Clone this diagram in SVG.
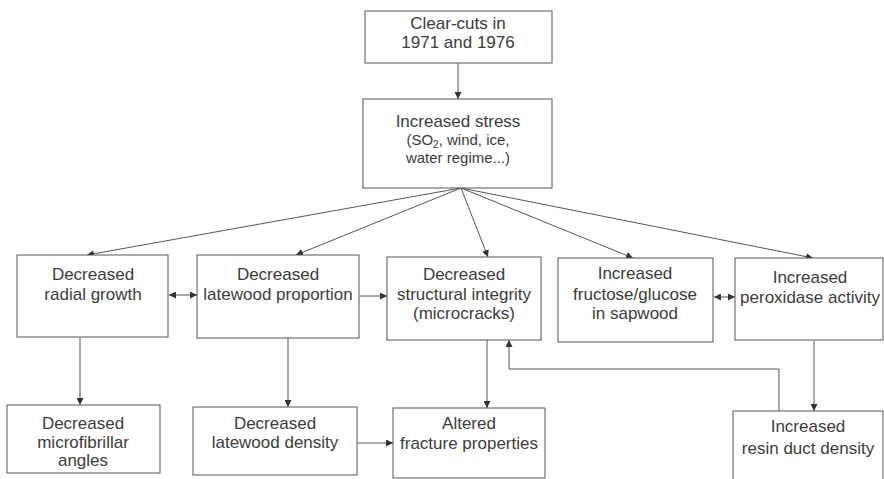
<svg xmlns="http://www.w3.org/2000/svg" width="884" height="479" viewBox="0 0 884 479">
<defs>
<marker id="ah" viewBox="0 0 10 10" refX="10" refY="5" markerWidth="7" markerHeight="7" orient="auto-start-reverse" markerUnits="userSpaceOnUse">
<path d="M0,0 L10,5 L0,10 z" fill="#333"/>
</marker>
<style>
.box{fill:#fff;stroke:#555;stroke-width:1}
.t{font-family:"Liberation Sans",Arial,sans-serif;font-size:17px;fill:#3c3c3c;text-anchor:middle}
.s{font-size:15px}
.c{fill:none;stroke:#555;stroke-width:1}
</style>
</defs>
<rect width="884" height="479" fill="#fff"/>
<g id="connectors">
<line class="c" x1="458" y1="63" x2="458" y2="99" marker-end="url(#ah)"/>
<line class="c" x1="461" y1="188" x2="87" y2="255" marker-end="url(#ah)"/>
<line class="c" x1="461" y1="188" x2="296" y2="255" marker-end="url(#ah)"/>
<line class="c" x1="461" y1="188" x2="488" y2="257" marker-end="url(#ah)"/>
<line class="c" x1="461" y1="188" x2="633" y2="258" marker-end="url(#ah)"/>
<line class="c" x1="461" y1="188" x2="813" y2="258" marker-end="url(#ah)"/>
<line class="c" x1="169" y1="295" x2="197" y2="295" marker-start="url(#ah)" marker-end="url(#ah)"/>
<line class="c" x1="360" y1="296" x2="387" y2="296" marker-end="url(#ah)"/>
<line class="c" x1="714" y1="297" x2="735" y2="297" marker-start="url(#ah)" marker-end="url(#ah)"/>
<line class="c" x1="80" y1="337" x2="80" y2="405" marker-end="url(#ah)"/>
<line class="c" x1="288" y1="338" x2="288" y2="407" marker-end="url(#ah)"/>
<line class="c" x1="487" y1="340" x2="487" y2="408" marker-end="url(#ah)"/>
<line class="c" x1="814" y1="341" x2="814" y2="411" marker-end="url(#ah)"/>
<line class="c" x1="357" y1="443" x2="393" y2="443" marker-end="url(#ah)"/>
<polyline class="c" points="779,411 779,369 509,369 509,340" marker-end="url(#ah)"/>
</g>
<g id="n-clearcuts">
<rect class="box" x="365" y="11" width="187" height="52"/>
<text class="t" x="458" y="29">Clear-cuts in</text>
<text class="t" x="458" y="48">1971 and 1976</text>
</g>
<g id="n-stress">
<rect class="box" x="363" y="99" width="189" height="89"/>
<text class="t" x="458" y="127">Increased stress</text>
<text class="t s" x="458" y="145">(SO<tspan font-size="10" dy="3">2</tspan><tspan dy="-3">, wind, ice,</tspan></text>
<text class="t s" x="458" y="163">water regime...)</text>
</g>
<g id="n-radial">
<rect class="box" x="17" y="255" width="151" height="82"/>
<text class="t" x="93" y="280">Decreased</text>
<text class="t" x="93" y="300">radial growth</text>
</g>
<g id="n-lwprop">
<rect class="box" x="197" y="255" width="162" height="83"/>
<text class="t" x="278" y="280">Decreased</text>
<text class="t" x="278" y="300">latewood proportion</text>
</g>
<g id="n-struct">
<rect class="box" x="387" y="257" width="154" height="83"/>
<text class="t" x="464" y="280">Decreased</text>
<text class="t" x="464" y="300">structural integrity</text>
<text class="t" x="464" y="319">(microcracks)</text>
</g>
<g id="n-fructose">
<rect class="box" x="558" y="258" width="155" height="84"/>
<text class="t" x="635" y="279">Increased</text>
<text class="t" x="635" y="300">fructose/glucose</text>
<text class="t" x="635" y="319">in sapwood</text>
</g>
<g id="n-peroxidase">
<rect class="box" x="735" y="258" width="148" height="82"/>
<text class="t" x="810" y="283">Increased</text>
<text class="t" x="810" y="303">peroxidase activity</text>
</g>
<g id="n-microfibril">
<rect class="box" x="7" y="405" width="153" height="68"/>
<text class="t" x="83" y="429">Decreased</text>
<text class="t" x="83" y="448">microfibrillar</text>
<text class="t" x="83" y="466">angles</text>
</g>
<g id="n-lwdensity">
<rect class="box" x="193" y="407" width="164" height="68"/>
<text class="t" x="275" y="429">Decreased</text>
<text class="t" x="275" y="448">latewood density</text>
</g>
<g id="n-fracture">
<rect class="box" x="393" y="408" width="152" height="70"/>
<text class="t" x="469" y="429">Altered</text>
<text class="t" x="469" y="449">fracture properties</text>
</g>
<g id="n-resin">
<rect class="box" x="733" y="411" width="150" height="72"/>
<text class="t" x="808" y="432">Increased</text>
<text class="t" x="808" y="454">resin duct density</text>
</g>
</svg>
